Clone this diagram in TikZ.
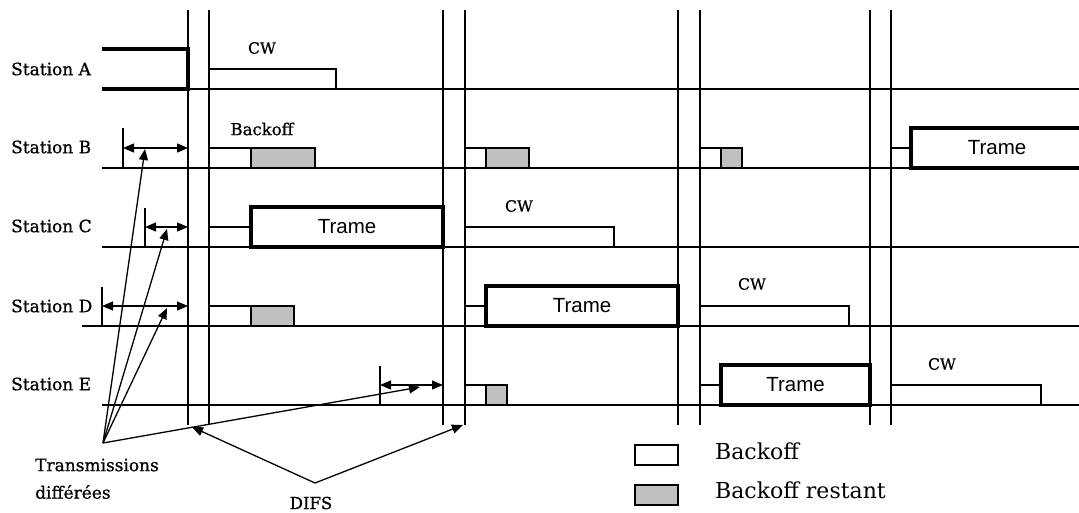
\documentclass[tikz,border=0pt]{standalone}
\usepackage{fontspec}
\usetikzlibrary{arrows.meta}
\newfontfamily\serifd[FakeBold=0.8]{DejaVu Serif}
\newfontfamily\serifl{DejaVu Serif}
\newfontfamily\sansd{Liberation Sans}
\definecolor{bgray}{RGB}{192,192,192}
\begin{document}
\begin{tikzpicture}[x=1pt,y=-1pt,
  ln/.style={line width=1.3pt, black},
  thk/.style={line width=3.6pt, line join=miter},
  dbl/.style={ln, {Triangle[length=11pt,width=9pt]}-{Triangle[length=11pt,width=9pt]}},
  ptr/.style={ln, -{Triangle[length=11pt,width=9pt]}},
  trame/.style={draw, line width=3.6pt, inner sep=0pt, minimum height=40pt, font=\sansd\fontsize{20.5}{24}\selectfont},
  stlbl/.style={font=\serifd\fontsize{17}{20}\selectfont, anchor=west, inner sep=0pt},
  cwlbl/.style={font=\serifd\fontsize{15.5}{18}\selectfont, inner sep=0pt},
  leglbl/.style={font=\serifl\fontsize{22}{26}\selectfont, anchor=west, inner sep=0pt},
  grey/.style={ln, draw, fill=bgray}
]
\useasboundingbox (0,0) rectangle (1079,512);
\clip (0,0) rectangle (1079,512);

% station labels
\node[stlbl] (la) at (11,69) {Station A};
\node[stlbl] (lb) at (11,147) {Station B};
\node[stlbl] (lc) at (11,226) {Station C};
\node[stlbl] (ld) at (11,306) {Station D};
\node[stlbl] (le) at (11,384) {Station E};

% baselines
\draw[ln] (102,89) -- (1079,89);
\draw[ln] (102,168) -- (1079,168);
\draw[ln] (102,247) -- (1079,247);
\draw[ln] (82,326) -- (1079,326);
\draw[ln] (102,405) -- (1079,405);

% vertical line pairs
\foreach \x in {188,209,443,465,678,700,870,891}
  \draw[ln] (\x,10) -- (\x,425);

% Station A
\draw[thk] (102,49) -- (188,49) -- (188,89) -- (102,89);
\draw[ln] (209,69) -- (336,69) -- (336,89);
\node[cwlbl] (cwa) at (262,48) {CW};

% Station B
\draw[ln] (123,128) -- (123,168);
\coordinate (ab1) at (123,148);
\coordinate (ab2) at (188,148);
\draw[dbl] (ab1) -- (ab2);
\node[cwlbl, font=\serifd\fontsize{16.5}{19}\selectfont] (bko) at (262,129) {Backoff};
\draw[ln] (209,148) -- (251,148);
\draw[grey] (251,148) rectangle (315,168);
\draw[ln] (465,148) -- (486,148);
\draw[grey] (486,148) rectangle (529,168);
\draw[ln] (700,148) -- (721,148);
\draw[grey] (721,148) rectangle (742,168);
\node[trame, minimum width=172pt] (tb) at (997,148) {Trame};
\draw[ln] (891,148) -- (tb.west);

% Station C
\draw[ln] (145,208) -- (145,247);
\coordinate (ac1) at (145,227);
\coordinate (ac2) at (188,227);
\draw[dbl] (ac1) -- (ac2);
\node[trame, minimum width=192pt] (tc) at (347,227) {Trame};
\draw[ln] (209,227) -- (tc.west);
\draw[ln] (465,227) -- (614,227) -- (614,247);
\node[cwlbl] (cwc) at (519,206) {CW};

% Station D
\draw[ln] (102,287) -- (102,326);
\coordinate (ad1) at (102,306);
\coordinate (ad2) at (188,306);
\draw[dbl] (ad1) -- (ad2);
\draw[ln] (209,306) -- (251,306);
\draw[grey] (251,306) rectangle (294,326);
\node[trame, minimum width=192pt] (td) at (582,306) {Trame};
\draw[ln] (465,306) -- (td.west);
\draw[ln] (700,306) -- (849,306) -- (849,326);
\node[cwlbl] (cwd) at (752,284) {CW};

% Station E
\draw[ln] (380,366) -- (380,405);
\coordinate (ae1) at (380,385);
\coordinate (ae2) at (443,385);
\draw[dbl] (ae1) -- (ae2);
\draw[ln] (465,385) -- (486,385);
\draw[grey] (486,385) rectangle (507,405);
\node[trame, minimum width=149pt] (te) at (795.5,385) {Trame};
\draw[ln] (700,385) -- (te.west);
\draw[ln] (891,385) -- (1041,385) -- (1041,405);
\node[cwlbl] (cwe) at (942,364) {CW};

% Transmissions differees
\coordinate (tr) at (103,443);
\coordinate (trb) at (145,149);
\coordinate (trc) at (167,229);
\coordinate (trd) at (167,308);
\coordinate (tre) at (420,387);
\draw[ptr] (tr) -- (trb);
\draw[ptr] (tr) -- (trc);
\draw[ptr] (tr) -- (trd);
\draw[ptr] (tr) -- (tre);
\node[stlbl] (trt1) at (35,465) {Transmissions};
\node[stlbl] (trt2) at (35,492) {différées};

% DIFS
\coordinate (dv) at (315,483);
\coordinate (dl) at (192,427);
\coordinate (dr) at (463,425);
\draw[ptr] (dv) -- (dl);
\draw[ptr] (dv) -- (dr);
\node[cwlbl, font=\serifd\fontsize{16.5}{19}\selectfont] (difs) at (311,503) {DIFS};

% legend
\draw[ln] (635,445) rectangle (678,465);
\draw[grey] (635,485) rectangle (678,505);
\node[leglbl] (lg1) at (715,451) {Backoff};
\node[leglbl] (lg2) at (715,490) {Backoff restant};
\end{tikzpicture}
\end{document}
